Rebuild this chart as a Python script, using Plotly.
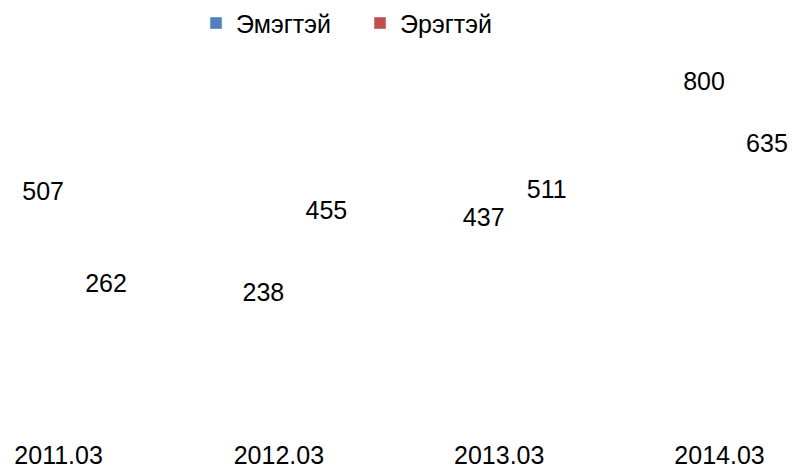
import plotly.graph_objects as go

categories = ["2011.03", "2012.03", "2013.03", "2014.03"]
emegtei = [507, 238, 437, 800]
eregtei = [262, 455, 511, 635]
series_names = ["Эмэгтэй", "Эрэгтэй"]
colors = ["#4F81BD", "#C0504D"]

FONT = "Liberation Sans, Arial, sans-serif"
xs = list(range(len(categories)))

BAR_W = 0.28
HALF_SEP = 0.1429
offsets = [-HALF_SEP - BAR_W / 2, HALF_SEP - BAR_W / 2]

fig = go.Figure()
for vals, name, off in zip([emegtei, eregtei], series_names, offsets):
    fig.add_trace(go.Bar(
        x=xs, y=vals, name=name, showlegend=False,
        width=BAR_W, offset=off,
        marker=dict(color="rgba(0,0,0,0)", line=dict(width=0)),
        text=[str(v) for v in vals], textposition="outside",
        textfont=dict(family=FONT, size=25, color="#000000"),
        constraintext="none", cliponaxis=False, hoverinfo="skip",
    ))
# legend-only entries (bars themselves are not rendered in the reference)
for name, c in zip(series_names, colors):
    fig.add_trace(go.Bar(x=[None], y=[None], name=name, marker_color=c,
                         showlegend=True))

fig.update_layout(
    width=793, height=469,
    margin=dict(l=0, r=0, t=59, b=71, autoexpand=False),
    paper_bgcolor="white", plot_bgcolor="white",
    barmode="overlay",
    legend=dict(orientation="h", x=0.2472, y=1.1053, xanchor="left", yanchor="middle",
                font=dict(family=FONT, size=25, color="#000000"),
                itemwidth=30, entrywidth=119, entrywidthmode="pixels",
                traceorder="normal"),
    xaxis=dict(range=[-0.3386, 3.261], showgrid=False, zeroline=False, showline=False,
               tickvals=[i - 0.0726 for i in xs], ticktext=categories,
               ticks="outside", ticklen=35, tickcolor="rgba(0,0,0,0)",
               tickfont=dict(family=FONT, size=25, color="#000000")),
    yaxis=dict(range=[0, 903], visible=False, showgrid=False, zeroline=False),
    showlegend=True,
)

fig.write_html(
    "out.html",
    config={"displayModeBar": False},
    post_script="document.body.style.margin='0';document.body.style.overflow='hidden';",
)
